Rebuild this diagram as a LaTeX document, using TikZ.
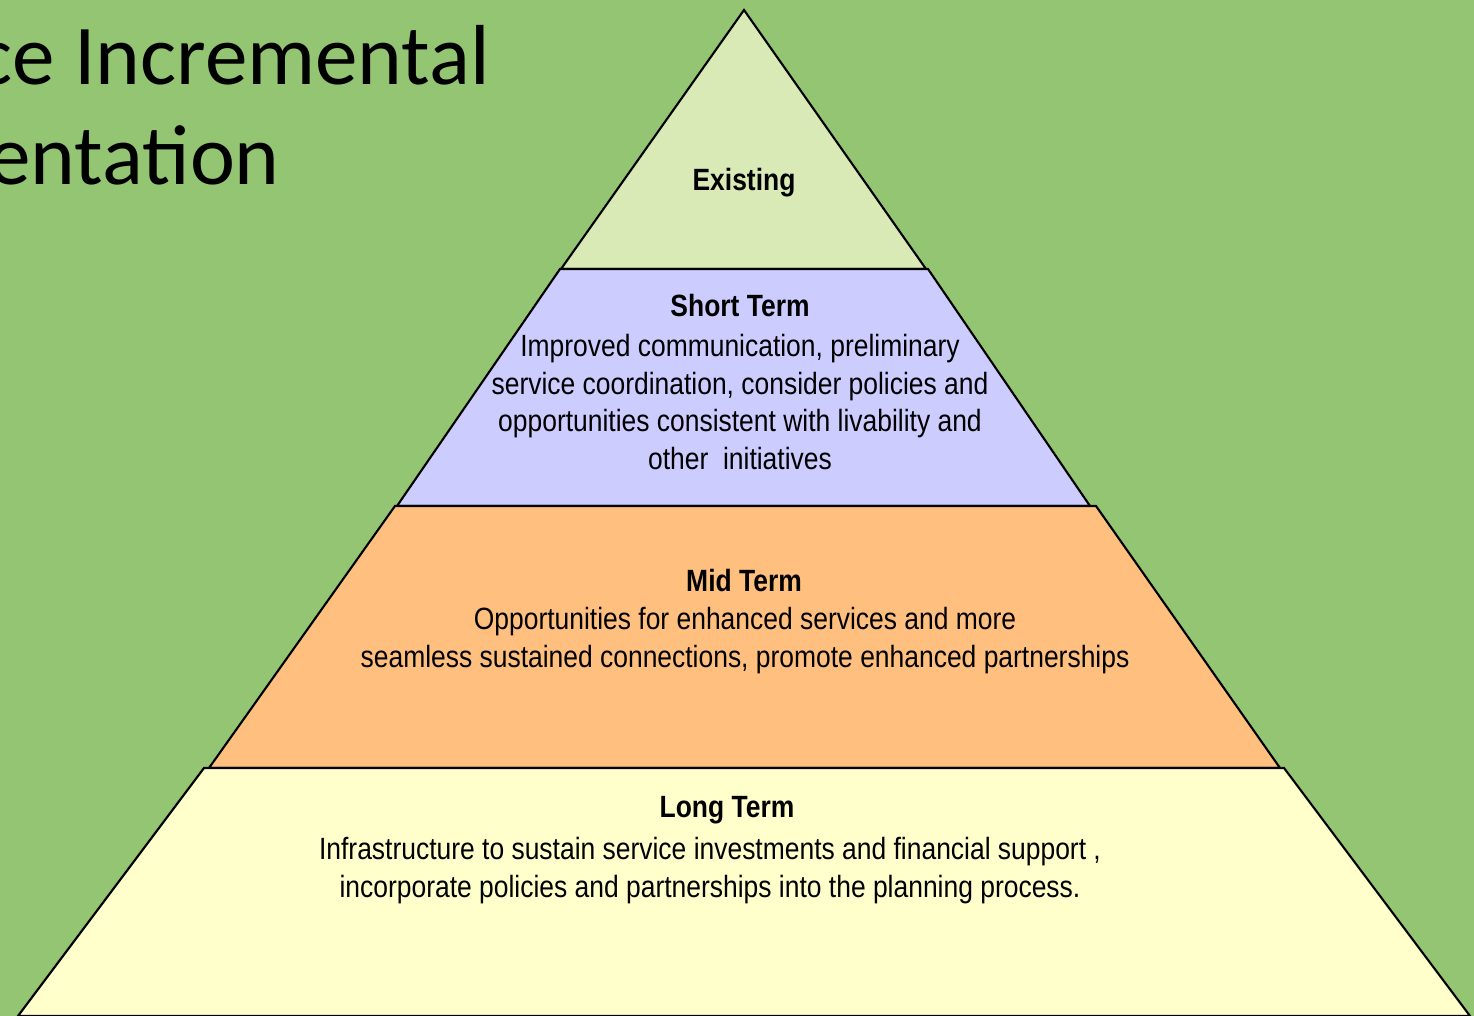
\documentclass[tikz,border=0pt]{standalone}
\usepackage{fontspec}
\setmainfont{Liberation Sans}[FakeStretch=0.86]
\newfontfamily\titlefont{Carlito}
\usepackage{tikz}
\usetikzlibrary{positioning}

\definecolor{slidegreen}{HTML}{93C572}
\definecolor{existfill}{HTML}{D9EAB6}
\definecolor{shortfill}{HTML}{CCCCFF}
\definecolor{midfill}{HTML}{FFBF7E}
\definecolor{longfill}{HTML}{FFFFCC}

\tikzset{
	layer/.style={draw=black,line width=1.2pt,line join=miter},
	head/.style={font=\bfseries\fontsize{17.5}{21.6}\selectfont,inner sep=0pt},
	body/.style={align=center,font=\fontsize{17.5}{21.6}\selectfont,inner sep=0pt}
}

\begin{document}
\begin{tikzpicture}[x=0.02cm,y=-0.02cm]
	  % Slide background
	  \fill[slidegreen] (0,0) rectangle (1474,1016);
	  \useasboundingbox (0,0) rectangle (1474,1016);
	  \clip (0,0) rectangle (1474,1016);
	  % Title, cut off at the left edge
	  \node (titlea) [anchor=base east,inner sep=0pt,font=\titlefont\fontsize{48.5}{58}\selectfont] at (490,85) {ce Incremental};
	  \node (titleb) [anchor=base east,inner sep=0pt,font=\titlefont\fontsize{48.5}{58}\selectfont] at (280,185) {entation};
	  % Draw the four layers of the pyramid
	  \draw[layer,fill=existfill] (744,10) coordinate (apex)
	      -- (926,269) -- (561,269) -- cycle;
	  \draw[layer,fill=shortfill] (560,269) coordinate (s_1) -- (928,269) coordinate (s_2)
	      -- (1090,506) -- (397,506) -- cycle;
	  \draw[layer,fill=midfill] (395,506) coordinate (m_1) -- (1096,506) coordinate (m_2)
	      -- (1280,768) -- (209,768) -- cycle;
	  \draw[layer,fill=longfill] (204,768) coordinate (l_1) -- (1284,768) coordinate (l_2)
	      -- (1470,1016) -- (18,1016) -- cycle;
	  % Labels of the layers
	  \node (existing) [head] at (744,183) {Existing};
	  \node (shorthead) [head] at (740,306) {Short Term};
	  \node (shortbody) [body] at (740,402) {Improved communication, preliminary\\
	      service coordination, consider policies and\\
	      opportunities consistent with livability and\\
	      other\ \ initiatives};
	  \node (midhead) [head] at (744,581) {Mid Term};
	  \node (midbody) [body] at (745,641) {Opportunities for enhanced services and more\\
	      seamless sustained connections, promote enhanced partnerships};
	  \node (longhead) [head] at (727,810) {Long Term};
	  \node (longbody) [body] at (710,871) {Infrastructure to sustain service investments and financial support ,\\
	      incorporate policies and partnerships into the planning process.};
      \end{tikzpicture}
\end{document}
